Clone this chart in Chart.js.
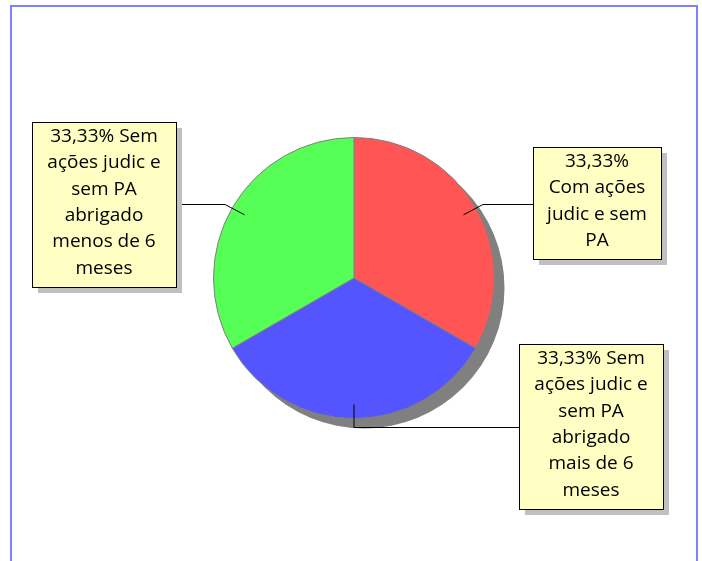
<!DOCTYPE html>
<html>
<head>
<meta charset="utf-8">
<script src="https://cdn.jsdelivr.net/npm/chart.js@4.4.0/dist/chart.umd.min.js"></script>
<style>
  html, body { margin: 0; padding: 0; background: #fff; }
  #wrap { width: 702px; height: 561px; }
</style>
</head>
<body>
<div id="wrap"><canvas id="pie" width="702" height="561"></canvas></div>
<script>
// categories and their shares (%)
const categories = [
  'Com ações judic e sem PA',
  'Sem ações judic e sem PA abrigado mais de 6 meses',
  'Sem ações judic e sem PA abrigado menos de 6 meses'
];
const shares = [33.33, 33.33, 33.33];
const sliceColors = ['#ff5555', '#5555ff', '#55ff55'];
// callout text, wrapped as in the picture; first entry follows the percentage
const calloutLines = [
  ['', 'Com ações', 'judic e sem', 'PA'],
  ['Sem', 'ações judic e', 'sem PA', 'abrigado', 'mais de 6', 'meses'],
  ['Sem', 'ações judic e', 'sem PA', 'abrigado', 'menos de 6', 'meses']
];

const pctText = v => v.toFixed(2).replace('.', ',') + '%';

const calloutPlugin = {
  id: 'callouts',
  beforeDraw(chart) {
    const ctx = chart.ctx;
    ctx.save();
    ctx.strokeStyle = '#7f7fff';
    ctx.lineWidth = 2;
    ctx.beginPath();
    ctx.moveTo(11, 600);
    ctx.lineTo(11, 6);
    ctx.lineTo(697, 6);
    ctx.lineTo(697, 600);
    ctx.stroke();
    ctx.restore();
  },
  beforeDatasetsDraw(chart) {
    const arc = chart.getDatasetMeta(0).data[0];
    const ctx = chart.ctx;
    ctx.save();
    ctx.fillStyle = '#808080';
    ctx.beginPath();
    ctx.arc(arc.x + 10, arc.y + 10, arc.outerRadius, 0, Math.PI * 2);
    ctx.fill();
    ctx.restore();
  },
  afterDatasetsDraw(chart, args, opts) {
    const ctx = chart.ctx;
    const meta = chart.getDatasetMeta(0);
    ctx.save();
    meta.data.forEach((arc, i) => {
      const box = opts.boxes[i];
      const mid = (arc.startAngle + arc.endAngle) / 2;
      const r = arc.outerRadius;
      const ax = arc.x + Math.cos(mid) * r * 0.9;
      const ay = arc.y + Math.sin(mid) * r * 0.9;
      const ex = arc.x + Math.cos(mid) * r * 1.06;
      const ey = Math.round(arc.y + Math.sin(mid) * r * 1.06) + 0.5;
      const bx = ex < box.x ? box.x : box.x + box.w;

      // leader line
      ctx.strokeStyle = '#000';
      ctx.lineWidth = 1;
      ctx.beginPath();
      ctx.moveTo(ax, ay);
      ctx.lineTo(ex, ey);
      ctx.lineTo(bx, ey);
      ctx.stroke();

      // box shadow + box
      ctx.fillStyle = '#c0c0c0';
      ctx.fillRect(box.x + 6, box.y + 6, box.w, box.h);
      ctx.fillStyle = '#ffffc4';
      ctx.fillRect(box.x, box.y, box.w, box.h);
      ctx.strokeStyle = '#000';
      ctx.strokeRect(box.x + 0.5, box.y + 0.5, box.w, box.h);

      // text
      const lines = calloutLines[i].slice();
      lines[0] = (pctText(shares[i]) + ' ' + lines[0]).trim();
      ctx.fillStyle = '#000';
      ctx.font = '19px "Open Sans"';
      ctx.textAlign = 'center';
      ctx.textBaseline = 'middle';
      const lh = 26.3;
      const cx = box.x + box.w / 2;
      const top = box.y + box.h / 2 - 2 - (lines.length - 1) * lh / 2;
      lines.forEach((t, k) => ctx.fillText(t, cx, top + k * lh));
    });
    ctx.restore();
  }
};

new Chart(document.getElementById('pie').getContext('2d'), {
  type: 'pie',
  plugins: [calloutPlugin],
  data: {
    labels: categories,
    datasets: [{
      data: shares,
      backgroundColor: sliceColors,
      borderColor: '#808080',
      borderWidth: 1
    }]
  },
  options: {
    responsive: false,
    animation: false,
    layout: {
      padding: { left: 213, right: 207, top: 137, bottom: 142 }
    },
    plugins: {
      legend: { display: false },
      tooltip: { enabled: false },
      callouts: {
        boxes: [
          { x: 533, y: 147, w: 128, h: 112 },
          { x: 519, y: 344, w: 144, h: 165 },
          { x: 32, y: 122, w: 144, h: 165 }
        ]
      }
    }
  }
});
</script>
</body>
</html>
